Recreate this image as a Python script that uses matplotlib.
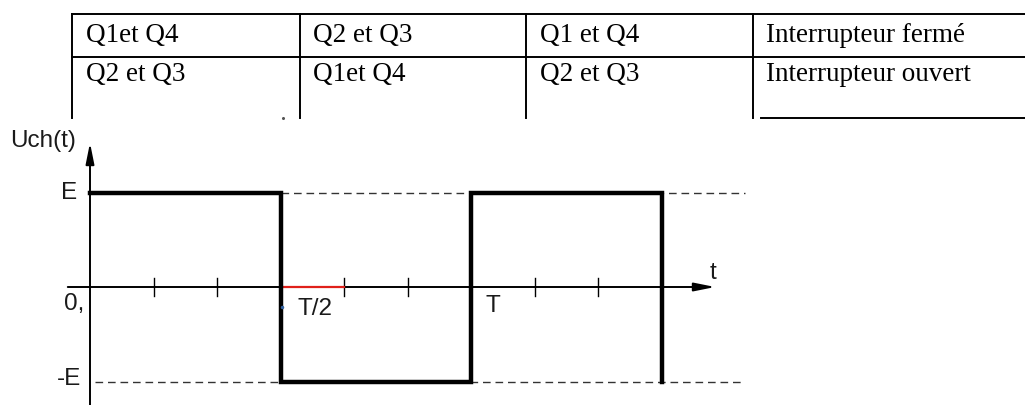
import matplotlib
matplotlib.use("Agg")
import matplotlib.pyplot as plt
from matplotlib.patches import FancyArrowPatch

# ---------------- data ----------------
table_rows = [
    ["Q1et Q4", "Q2 et Q3", "Q1 et Q4", "Interrupteur fermé"],
    ["Q2 et Q3", "Q1et Q4", "Q2 et Q3", "Interrupteur ouvert"],
]
switch_times = [0.0, 0.5, 1.0, 1.5]      # in units of T
levels = [1, -1, 1]                       # in units of E
final_level = -1
tick_positions = [1/6, 2/6, 4/6, 5/6, 7/6, 8/6]
highlight_span = [0.5, 4/6]
x_labels = ["T/2", "T"]
y_labels = ["E", "-E"]

# ---------------- figure ----------------
W, H = 1025, 405
fig = plt.figure(figsize=(W / 100, H / 100), dpi=100)

# pixel geometry of the chart
ox, oy = 90.0, 287.0      # origin in pixels
pxT, pxE = 381.0, 94.5    # pixels per T and per E

ax = fig.add_axes([0, 0, 1, 1])
ax.set_xlim(-ox / pxT, (W - ox) / pxT)
ax.set_ylim(-(H - oy) / pxE, oy / pxE)
ax.axis("off")

def tx(px):
    return (px - ox) / pxT

def ty(py):
    return (oy - py) / pxE

# dashed reference levels
dash_end = tx(745)
ax.plot([0.5, dash_end], [1, 1], color="#333333", lw=1.0, dashes=(5.5, 3.5), zorder=1)
ax.plot([tx(95), dash_end], [-1, -1], color="#333333", lw=1.0, dashes=(5.5, 3.5), zorder=1)

# axes arrows
ax.add_patch(FancyArrowPatch((tx(65), 0), (tx(718), 0),
                             arrowstyle="-|>,head_length=0.9,head_width=0.18",
                             mutation_scale=14, lw=1.4, color="black", zorder=3))
ax.add_patch(FancyArrowPatch((0, ty(410)), (0, ty(140)),
                             arrowstyle="-|>,head_length=0.9,head_width=0.18",
                             mutation_scale=14, lw=1.4, color="black", zorder=3))

# ticks
for tp in tick_positions:
    ax.plot([tp, tp], [-0.1, 0.1], color="black", lw=1.0, zorder=3)

# red highlight
ax.plot(highlight_span, [0, 0], color="#e0201a", lw=1.6, zorder=4)

# square wave
xs, ys = [], []
for i, lv in enumerate(levels):
    xs += [switch_times[i], switch_times[i + 1]]
    ys += [lv, lv]
xs.append(switch_times[-1])
ys.append(final_level)
ax.plot(xs, ys, color="black", lw=3.2, solid_joinstyle="miter", zorder=5)

# labels
fs = 17.5
tc = "#1a1a1a"
fam = "Liberation Sans"
ax.text(tx(10), ty(141), "Uch(t)", fontsize=fs, color=tc, ha="left", va="center", family=fam)
ax.text(tx(69), ty(193), y_labels[0], fontsize=fs, color=tc, ha="center", va="center", family=fam)
ax.text(tx(64), ty(304), "0,", fontsize=fs, color=tc, ha="left", va="center", family=fam)
ax.text(tx(57), ty(379), y_labels[1], fontsize=fs, color=tc, ha="left", va="center", family=fam)
ax.text(tx(297), ty(309), x_labels[0], fontsize=fs, color=tc, ha="left", va="center", family=fam)
ax.text(tx(493), ty(306), x_labels[1], fontsize=fs, color=tc, ha="center", va="center", family=fam)
ax.text(tx(713), ty(273), "t", fontsize=fs, color=tc, ha="center", va="center", family=fam)
ax.plot([tx(282)], [ty(307)], marker="o", ms=1.5, color="#3060a0", zorder=6)

# ---------------- table (pixel overlay) ----------------
tab = fig.add_axes([0, 0, 1, 1])
tab.set_xlim(0, W)
tab.set_ylim(H, 0)
tab.axis("off")
tab.patch.set_alpha(0)

col_x = [72, 300, 526, 753]
row_y = [14, 57]
bottom_y = 118
lw_t = 1.4
for y in row_y:
    tab.plot([col_x[0], W], [y, y], color="black", lw=lw_t)
for x in col_x:
    tab.plot([x, x], [row_y[0], bottom_y], color="black", lw=lw_t)
tab.plot([761, W], [bottom_y, bottom_y], color="black", lw=lw_t)
tab.plot([283], [118], marker="o", ms=1.2, color="#555555")

text_x = [86, 313, 540, 766]
baselines = [42, 81]
for r, row in enumerate(table_rows):
    for c, txt in enumerate(row):
        tab.text(text_x[c], baselines[r], txt, fontsize=19.5, family="Liberation Serif",
                 ha="left", va="baseline", color="black")

fig.savefig("out.png", dpi=100)
